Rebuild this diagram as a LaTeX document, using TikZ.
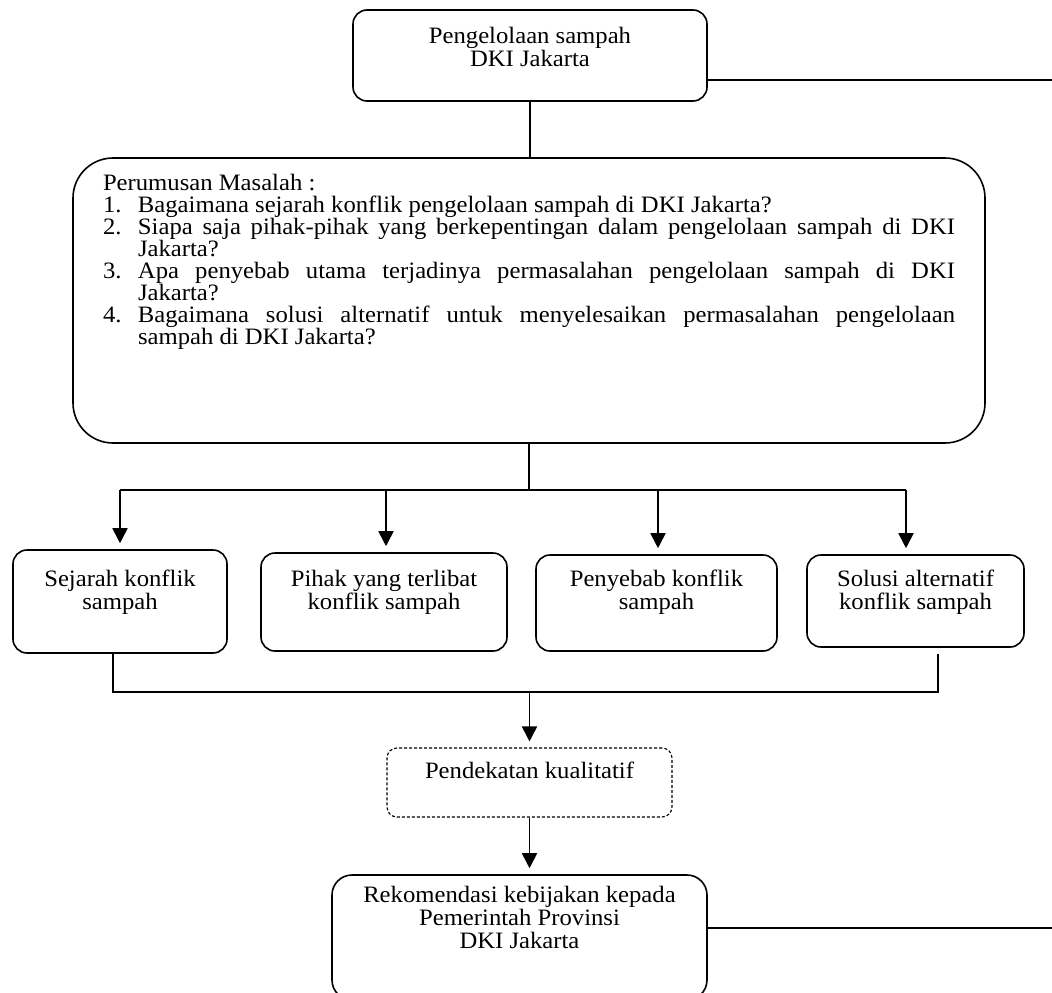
\documentclass[tikz,border=0pt]{standalone}
\usepackage{fontspec}
\setmainfont{Liberation Serif}[FakeStretch=1.05]
\usetikzlibrary{arrows.meta}
\newcommand{\bxt}[4]{\parbox[c][#2][t]{#1}{\centering\rule{0pt}{#3}\ignorespaces#4\par}}
\begin{document}
\begin{tikzpicture}[x=1pt,y=-1pt,line width=1.6pt,
  box/.style={draw,rounded corners=14pt,inner sep=0pt,line width=1.6pt},
  arr/.style={-{Triangle[length=15pt,width=15pt]},line width=1.8pt,shorten >=6pt},
  font=\fontsize{23.5}{23}\selectfont]
\useasboundingbox (0,0) rectangle (1052,993);

% top box
\node[box] (top) at (530,55.5) {\bxt{354pt}{91pt}{33pt}{Pengelolaan sampah\\DKI Jakarta}};

% big box
\node[box,rounded corners=40pt] (big) at (529,300.5) {\parbox[c][285pt][t]{912pt}{%
  \fontsize{23.5}{22}\selectfont
  \leftskip=30pt \rightskip=30pt \parindent=0pt
  \hyphenpenalty=10000 \exhyphenpenalty=10000 \tolerance=10000 \hbadness=10000
  \rule{0pt}{32pt}Perumusan Masalah :\par
  \hangindent=35pt \hangafter=1 \makebox[35pt][l]{1.}Bagaimana sejarah konflik pengelolaan sampah di DKI Jakarta?\par
  \hangindent=35pt \hangafter=1 \makebox[35pt][l]{2.}Siapa saja pihak-pihak yang berkepentingan dalam pengelolaan sampah di DKI\linebreak Jakarta?\par
  \hangindent=35pt \hangafter=1 \makebox[35pt][l]{3.}Apa penyebab utama terjadinya permasalahan pengelolaan sampah di DKI\linebreak Jakarta?\par
  \hangindent=35pt \hangafter=1 \makebox[35pt][l]{4.}Bagaimana solusi alternatif untuk menyelesaikan permasalahan pengelolaan\linebreak sampah di DKI Jakarta?\par}};

% four boxes
\node[box] (b1) at (120,601.5) {\bxt{214pt}{103pt}{36pt}{Sejarah konflik\\sampah}};
\node[box] (b2) at (384,602) {\bxt{246pt}{98pt}{33pt}{Pihak yang terlibat\\konflik sampah}};
\node[box] (b3) at (656.5,603) {\bxt{241pt}{96pt}{31pt}{Penyebab konflik\\sampah}};
\node[box] (b4) at (915.5,601) {\bxt{217pt}{92pt}{31pt}{Solusi alternatif\\konflik sampah}};

% dashed box
\node[box,dashed,rounded corners=10pt,line width=1.1pt,dash pattern=on 3pt off 2pt] (dash) at (529.5,782.5) {\bxt{285pt}{69pt}{30pt}{Pendekatan kualitatif}};

% bottom box
\node[box,rounded corners=20pt] (bot) at (519.5,937.5) {\bxt{375pt}{125pt}{27pt}{Rekomendasi kebijakan kepada\\Pemerintah Provinsi\\DKI Jakarta}};

% connectors
\coordinate (r1) at (1060,80);
\coordinate (r2) at (1060,928);
\draw (top.east |- r1) -- (r1);
\draw (bot.east |- r2) -- (r2);
\draw (top.south) -- (top.south |- big.north);

\coordinate (jt) at (529,490);
\coordinate (h1) at (120,490);
\coordinate (h2) at (386,490);
\coordinate (h3) at (658,490);
\coordinate (h4) at (906,490);
\draw (big.south) -- (jt);
\draw (h1) -- (h4);
\draw[arr] (h1) -- (h1 |- b1.north);
\draw[arr] (h2) -- (h2 |- b2.north);
\draw[arr] (h3) -- (h3 |- b3.north);
\draw[arr] (h4) -- (h4 |- b4.north);

\coordinate (c1) at (113,692);
\coordinate (c4) at (938,692);
\coordinate (cm) at (529.5,692);
\draw (c1 |- b1.south) -- (c1) -- (c4) -- ([yshift=-6pt]c4 |- b4.south);
\draw[arr] (cm) -- (cm |- dash.north);
\draw[arr] (dash.south) -- (dash.south |- bot.north);
\end{tikzpicture}
\end{document}
